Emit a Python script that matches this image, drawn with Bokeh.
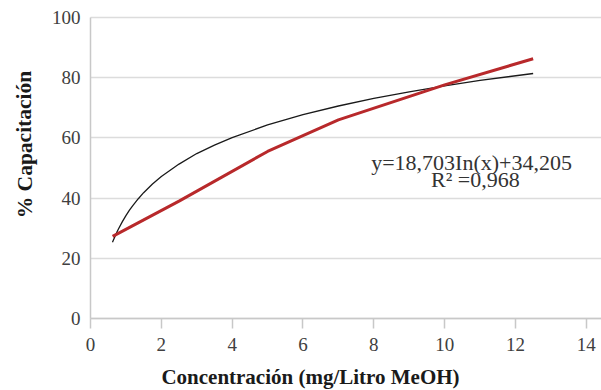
from bokeh.plotting import figure
from bokeh.models import Range1d, Label, FixedTicker
from bokeh.embed import file_html
from bokeh.resources import INLINE

# Measured data (red series)
conc = [0.625, 1.25, 2.5, 5, 7, 10, 12.5]
capacit = [27.3, 31.2, 39.0, 55.5, 66.0, 77.6, 86.3]

# Logarithmic trend line (black)
trend_x = [0.62, 0.66, 0.7, 0.75, 0.8, 0.9, 1.0, 1.1, 1.2, 1.35, 1.5, 1.75, 2.0, 2.5, 3.0, 3.5, 4.0, 5.0, 6.0, 7.0, 8.0, 9.0, 10.0, 11.0, 12.5]
trend_y = [25.3, 26.4, 27.5, 28.8, 30.0, 32.2, 34.2, 36.0, 37.6, 39.8, 41.8, 44.7, 47.2, 51.3, 54.8, 57.6, 60.1, 64.3, 67.7, 70.6, 73.1, 75.3, 77.3, 79.1, 81.4]

x_ticks = [0, 2, 4, 6, 8, 10, 12, 14]
y_ticks = [0, 20, 40, 60, 80, 100]
equation = "y=18,703In(x)+34,205"
r2_text = "R\u00b2 =0,968"
x_title = "Concentración (mg/Litro MeOH)"
y_title = "% Capacitación"

FONT = "Liberation Serif"

X_END = 14.43
p = figure(width=601, height=390, output_backend="svg", toolbar_location=None,
           x_range=Range1d(-2.5417, X_END), y_range=Range1d(-23.92, 105.65),
           min_border_left=0, min_border_right=0, min_border_top=0, min_border_bottom=0)
p.outline_line_color = None
p.background_fill_color = "white"
p.border_fill_color = "white"

# grid
p.xgrid.grid_line_color = None
p.ygrid.grid_line_color = "#dcdcdc"
p.ygrid.grid_line_width = 1.5
p.ygrid.ticker = FixedTicker(ticks=y_ticks)
p.ygrid.cross_bounds = (0, X_END)

# x axis
p.xaxis.fixed_location = 0
p.xaxis.bounds = (0, X_END)
p.xaxis.ticker = FixedTicker(ticks=x_ticks)
p.xaxis.axis_line_color = "#c8c8c8"
p.xaxis.axis_line_width = 1.5
p.xaxis.major_tick_line_color = "#c8c8c8"
p.xaxis.major_tick_line_width = 1.5
p.xaxis.major_tick_out = 10
p.xaxis.major_tick_in = 0
p.xaxis.minor_tick_line_color = None
p.xaxis.major_label_standoff = 9
p.xaxis.major_label_text_font = FONT
p.xaxis.major_label_text_font_size = "19px"
p.xaxis.major_label_text_color = "#404040"

# y axis
p.yaxis.fixed_location = 0
p.yaxis.bounds = (0, 100)
p.yaxis.ticker = FixedTicker(ticks=y_ticks)
p.yaxis.axis_line_color = "#c8c8c8"
p.yaxis.axis_line_width = 1.5
p.yaxis.major_tick_line_color = None
p.yaxis.major_tick_out = 0
p.yaxis.major_tick_in = 0
p.yaxis.minor_tick_line_color = None
p.yaxis.major_label_standoff = 10
p.yaxis.major_label_text_font = FONT
p.yaxis.major_label_text_font_size = "19px"
p.yaxis.major_label_text_color = "#404040"

# series
p.line(trend_x, trend_y, line_color="#1a1a1a", line_width=1.3)
p.line(conc, capacit, line_color="#b8292b", line_width=3)

# equation
p.add_layout(Label(x=10.76, y=51.8, text=equation, text_align="center", text_baseline="middle",
                   text_font=FONT, text_font_size="22px", text_color="#333333"))
p.add_layout(Label(x=10.87, y=46.3, text=r2_text, text_align="center", text_baseline="middle",
                   text_font=FONT, text_font_size="22px", text_color="#333333"))

# axis titles (screen units, frame == whole canvas)
p.add_layout(Label(x=310, y=14, x_units="screen", y_units="screen", text=x_title,
                   text_align="center", text_baseline="middle", text_font=FONT,
                   text_font_size="21px", text_font_style="bold", text_color="#1a1a1a"))
p.add_layout(Label(x=24, y=246, x_units="screen", y_units="screen", text=y_title, angle=1.5708,
                   text_align="center", text_baseline="middle", text_font=FONT,
                   text_font_size="21.5px", text_font_style="bold", text_color="#1a1a1a"))

open("out.html", "w").write(file_html(p, INLINE))
